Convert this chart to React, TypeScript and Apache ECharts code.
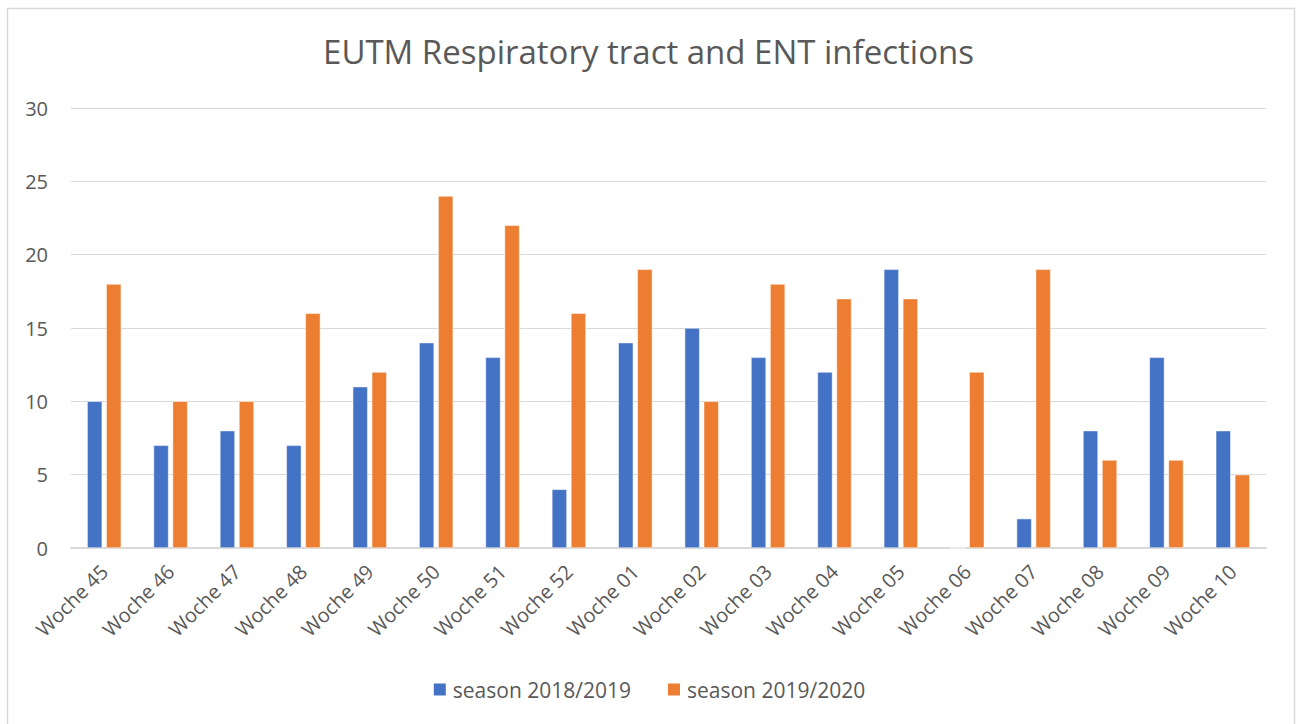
import React, { useEffect, useRef } from "react";
import * as echarts from "echarts";

const categories = [
  "Woche 45", "Woche 46", "Woche 47", "Woche 48", "Woche 49", "Woche 50",
  "Woche 51", "Woche 52", "Woche 01", "Woche 02", "Woche 03", "Woche 04",
  "Woche 05", "Woche 06", "Woche 07", "Woche 08", "Woche 09", "Woche 10",
];
const season1819 = [10, 7, 8, 7, 11, 14, 13, 4, 14, 15, 13, 12, 19, 0, 2, 8, 13, 8];
const season1920 = [18, 10, 10, 16, 12, 24, 22, 16, 19, 10, 18, 17, 17, 12, 19, 6, 6, 5];
const seriesNames = ["season 2018/2019", "season 2019/2020"];
const titleText = "EUTM Respiratory tract and ENT infections";

export default function App() {
  const ref = useRef<HTMLDivElement>(null);
  useEffect(() => {
    if (!ref.current) return;
    const chart = echarts.init(ref.current, null, { renderer: "svg" });
    const font = "'Open Sans', 'Noto Sans', sans-serif";
    chart.setOption({
      animation: false,
      backgroundColor: "#ffffff",
      textStyle: { fontFamily: font },
      title: {
        text: titleText,
        left: "center",
        top: 30,
        textStyle: { fontFamily: font, fontSize: 33, fontWeight: "normal", color: "#595959" },
      },
      graphic: [
        {
          type: "rect",
          shape: { x: 7.5, y: 8.5, width: 1287, height: 730 },
          style: { fill: "none", stroke: "#d9d9d9", lineWidth: 1.5 },
          silent: true,
        },
      ],
      legend: {
        bottom: 19,
        left: "center",
        itemWidth: 14,
        itemHeight: 14,
        itemGap: 35,
        icon: "rect",
        textStyle: { fontFamily: font, fontSize: 21, color: "#595959", padding: [0, 0, 0, 1] },
        data: seriesNames,
      },
      grid: { left: 71, right: 31, top: 108, bottom: 176, containLabel: false },
      xAxis: {
        type: "category",
        data: categories,
        axisLine: { lineStyle: { color: "#d9d9d9", width: 2 } },
        axisTick: { show: false },
        axisLabel: {
          rotate: 45,
          interval: 0,
          margin: 20,
          fontFamily: font,
          fontSize: 20,
          color: "#595959",
        },
      },
      yAxis: {
        type: "value",
        min: 0,
        max: 30,
        interval: 5,
        axisLine: { show: false },
        axisTick: { show: false },
        splitLine: { lineStyle: { color: "#d9d9d9", width: 1 } },
        axisLabel: { fontFamily: font, fontSize: 20, color: "#595959", margin: 23 },
      },
      series: [
        {
          name: seriesNames[0],
          type: "bar",
          data: season1819,
          barWidth: 15,
          barGap: "27%",
          itemStyle: { color: "#4472c4", borderColor: "#ffffff", borderWidth: 0.5 },
        },
        {
          name: seriesNames[1],
          type: "bar",
          data: season1920,
          barWidth: 15,
          barGap: "27%",
          itemStyle: { color: "#ed7d31", borderColor: "#ffffff", borderWidth: 0.5 },
        },
      ],
    });
    return () => chart.dispose();
  }, []);
  return (
    <div
      ref={ref}
      style={{ position: "fixed", left: 0, top: 0, width: 1297, height: 724 }}
    />
  );
}
